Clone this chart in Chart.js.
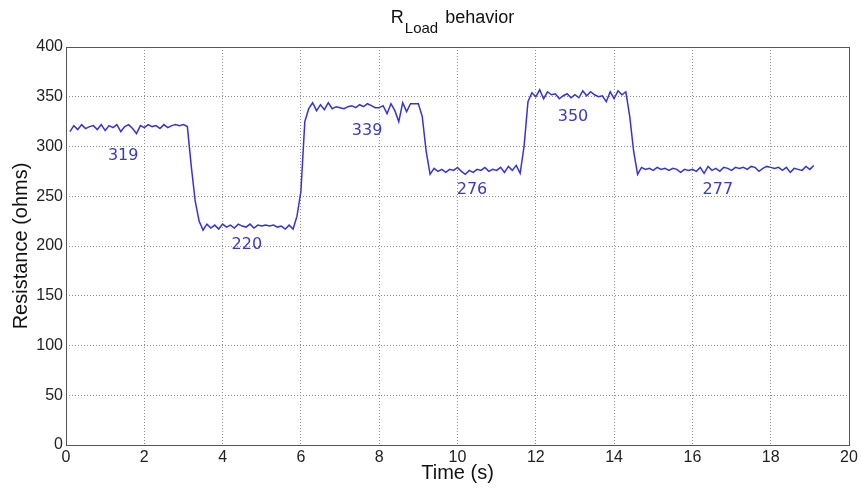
<!DOCTYPE html>
<html>
<head>
<meta charset="utf-8">
<script src="https://cdn.jsdelivr.net/npm/chart.js@4/dist/chart.umd.min.js"></script>
<style>
html,body{margin:0;padding:0;background:#fff;}
canvas{display:block;}
</style>
</head>
<body>
<canvas id="c" width="861" height="492"></canvas>
<script>
// ---- data ----
const timeS = [
  0.1,0.2,0.3,0.4,0.5,0.6,0.7,0.8,0.9,1.0,
  1.1,1.2,1.3,1.4,1.5,1.6,1.7,1.8,1.9,2.0,
  2.1,2.2,2.3,2.4,2.5,2.6,2.7,2.8,2.9,3.0,
  3.1,3.2,3.3,3.4,3.5,3.6,3.7,3.8,3.9,4.0,
  4.1,4.2,4.3,4.4,4.5,4.6,4.7,4.8,4.9,5.0,
  5.1,5.2,5.3,5.4,5.5,5.6,5.7,5.8,5.9,6.0,
  6.1,6.2,6.3,6.4,6.5,6.6,6.7,6.8,6.9,7.0,
  7.1,7.2,7.3,7.4,7.5,7.6,7.7,7.8,7.9,8.0,
  8.1,8.2,8.3,8.4,8.5,8.6,8.7,8.8,8.9,9.0,
  9.1,9.2,9.3,9.4,9.5,9.6,9.7,9.8,9.9,10.0,
  10.1,10.2,10.3,10.4,10.5,10.6,10.7,10.8,10.9,11.0,
  11.1,11.2,11.3,11.4,11.5,11.6,11.7,11.8,11.9,12.0,
  12.1,12.2,12.3,12.4,12.5,12.6,12.7,12.8,12.9,13.0,
  13.1,13.2,13.3,13.4,13.5,13.6,13.7,13.8,13.9,14.0,
  14.1,14.2,14.3,14.4,14.5,14.6,14.7,14.8,14.9,15.0,
  15.1,15.2,15.3,15.4,15.5,15.6,15.7,15.8,15.9,16.0,
  16.1,16.2,16.3,16.4,16.5,16.6,16.7,16.8,16.9,17.0,
  17.1,17.2,17.3,17.4,17.5,17.6,17.7,17.8,17.9,18.0,
  18.1,18.2,18.3,18.4,18.5,18.6,18.7,18.8,18.9,19.0,
  19.1
];
const resistanceOhms = [
  315,321,317,322,318,320,321,317,322,316,
  321,319,322,315,320,322,318,313,321,319,
  322,320,321,318,322,319,321,322,321,322,
  320,280,245,225,216,222,218,221,217,222,
  219,221,218,222,220,219,222,218,221,220,
  221,220,221,219,220,217,221,217,230,255,
  325,338,344,336,342,337,344,338,340,339,
  338,340,341,339,342,340,343,341,339,339,
  341,333,343,336,325,344,335,343,343,343,
  330,295,272,278,275,277,274,277,276,279,
  275,272,276,274,277,276,279,275,277,276,
  279,274,280,276,281,273,300,345,354,350,
  357,348,355,352,353,348,351,353,349,352,
  349,356,351,355,352,350,351,345,355,348,
  356,352,355,330,295,272,279,277,278,276,
  279,277,278,276,278,277,274,277,276,277,
  275,279,273,280,276,278,275,279,278,276,
  279,278,279,277,280,279,275,278,280,279,
  278,279,276,279,274,278,277,276,280,277,
  281
];
const xTickValues = [0,2,4,6,8,10,12,14,16,18,20];
const yTickValues = [0,50,100,150,200,250,300,350,400];
const levelLabels = ['319','220','339','276','350','277'];
const levelLabelTime = [1.46, 4.62, 7.69, 10.37, 12.95, 16.65];
const levelLabelOhms = [291, 201, 316, 256, 329.5, 256];
const titleMain = 'R';
const titleSub = 'Load';
const titleRest = ' behavior';
const xTitle = 'Time (s)';
const yTitle = 'Resistance (ohms)';

const points = timeS.map((t, i) => ({x: t, y: resistanceOhms[i]}));
const FONT = "'Liberation Sans', Arial, sans-serif";

const decor = {
  id: 'decor',
  afterDatasetsDraw(chart) {
    const {ctx, chartArea: a, scales: {x, y}} = chart;
    ctx.save();
    // level labels
    ctx.fillStyle = '#3a3ac8';
    ctx.font = "16px 'DejaVu Sans', sans-serif";
    ctx.textAlign = 'center';
    ctx.textBaseline = 'middle';
    levelLabels.forEach((txt, i) => {
      ctx.fillText(txt, x.getPixelForValue(levelLabelTime[i]), y.getPixelForValue(levelLabelOhms[i]));
    });
    // axes box
    ctx.strokeStyle = '#555';
    ctx.lineWidth = 1;
    ctx.strokeRect(Math.round(a.left) + 0.5, Math.round(a.top) + 0.5,
                   Math.round(a.right - a.left), Math.round(a.bottom - a.top));
    // title with subscript
    ctx.fillStyle = '#111';
    ctx.textAlign = 'left';
    ctx.textBaseline = 'alphabetic';
    ctx.font = '18px ' + FONT;
    const wR = ctx.measureText(titleMain).width;
    const wRest = ctx.measureText(titleRest).width;
    ctx.font = '15px ' + FONT;
    const wSub = ctx.measureText(titleSub).width;
    const total = wR + 1 + wSub + wRest;
    let sx = (a.left + a.right) / 2 - 6 - total / 2;
    ctx.font = '18px ' + FONT;
    ctx.fillText(titleMain, sx, 23);
    sx += wR + 1;
    ctx.font = '15px ' + FONT;
    ctx.fillText(titleSub, sx, 33);
    sx += wSub + 2;
    ctx.font = '18px ' + FONT;
    ctx.fillText(titleRest, sx, 23);
    ctx.restore();
  }
};

new Chart(document.getElementById('c'), {
  type: 'line',
  data: {
    datasets: [{
      data: points,
      borderColor: '#3434d6',
      borderWidth: 1.5,
      pointRadius: 0,
      tension: 0,
      fill: false
    }]
  },
  options: {
    responsive: false,
    animation: false,
    events: [],
    layout: {padding: {left: 0, right: 12, top: 47, bottom: 0}},
    plugins: {legend: {display: false}, tooltip: {enabled: false}, title: {display: false}},
    scales: {
      x: {
        type: 'linear',
        min: 0, max: 20,
        afterBuildTicks(s) { s.ticks = xTickValues.map(v => ({value: v})); },
        afterFit(s) { s.height = 47; },
        grid: {color: '#8c8c8c', lineWidth: 1, drawTicks: false},
        border: {display: false, dash: [1, 2]},
        ticks: {font: {family: FONT, size: 16}, color: '#222', padding: 3, maxRotation: 0},
        title: {display: true, text: xTitle, font: {family: FONT, size: 20}, color: '#111', padding: {top: 0, bottom: 7}}
      },
      y: {
        type: 'linear',
        min: 0, max: 400,
        afterBuildTicks(s) { s.ticks = yTickValues.map(v => ({value: v})); },
        afterFit(s) { s.width = 66; },
        grid: {color: '#8c8c8c', lineWidth: 1, drawTicks: false},
        border: {display: false, dash: [1, 2]},
        ticks: {font: {family: FONT, size: 16}, color: '#222', padding: 3},
        title: {display: true, text: yTitle, font: {family: FONT, size: 20}, color: '#111', padding: {top: 9, bottom: 0}}
      }
    }
  },
  plugins: [decor]
});
</script>
</body>
</html>
